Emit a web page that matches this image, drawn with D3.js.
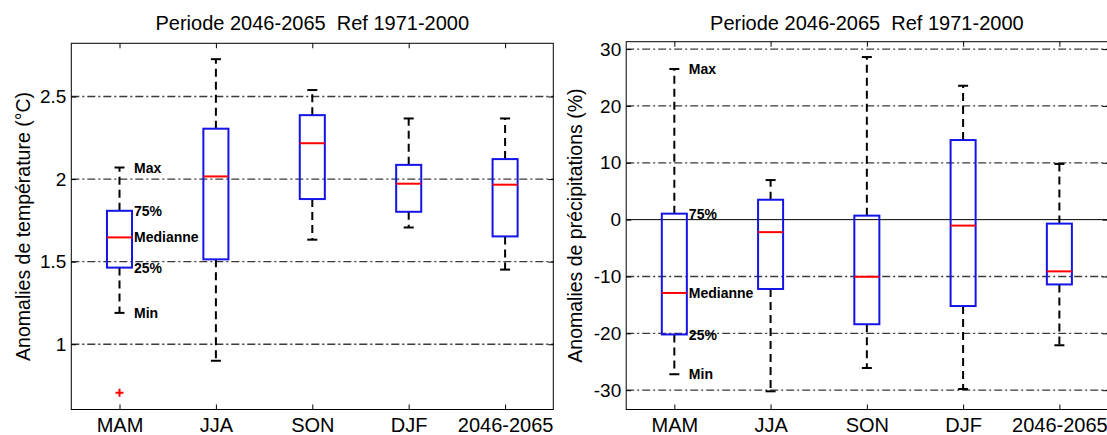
<!DOCTYPE html>
<html>
<head>
<meta charset="utf-8">
<script src="https://cdn.jsdelivr.net/npm/d3@7"></script>
<style>
  body { margin: 0; background: #fff; }
  svg { display: block; font-family: "Liberation Sans", Arial, sans-serif; }
</style>
</head>
<body>
<div id="chart"></div>
<script>
// categories on the x axis
const categories = ["MAM", "JJA", "SON", "DJF", "2046-2065"];

// temperature anomalies (°C)
const tempMin    = [1.19, 0.90, 1.633, 1.707, 1.452];
const tempQ1     = [1.464, 1.514, 1.879, 1.802, 1.653];
const tempMedian = [1.647, 2.016, 2.217, 1.972, 1.966];
const tempQ3     = [1.808, 2.305, 2.387, 2.086, 2.121];
const tempMax    = [2.07, 2.726, 2.539, 2.367, 2.367];
const tempOutliers = [[0.706], [], [], [], []];
const tempTicks = [1, 1.5, 2, 2.5];

// precipitation anomalies (%)
const precMin    = [-27.2, -30.2, -26.1, -29.8, -22.1];
const precQ1     = [-20.2, -12.2, -18.4, -15.2, -11.4];
const precMedian = [-12.9, -2.2, -10.05, -1.05, -9.1];
const precQ3     = [1.05, 3.5, 0.7, 14.0, -0.7];
const precMax    = [26.5, 6.96, 28.6, 23.55, 9.8];
const precOutliers = [[], [], [], [], []];
const precTicks = [-30, -20, -10, 0, 10, 20, 30];

const title = "Periode 2046-2065  Ref 1971-2000";
const statLabels = ["Max", "75%", "Medianne", "25%", "Min"];

let width = 1107,
    height = 435;

let svg = d3.select("#chart")
    .append("svg")
    .attr("width", width)
    .attr("height", height);

function drawPanel(p) {
    let x = d3.scaleLinear().domain([0.5, 5.5]).range([p.left, p.right]);
    let y = d3.scaleLinear().domain(p.domain).range([p.bottom, p.top]);

    let data = categories.map(function(c, i) {
        return { cat: c, pos: i + 1, min: p.min[i], q1: p.q1[i], med: p.med[i],
                 q3: p.q3[i], max: p.max[i], out: p.out[i] };
    });

    let g = svg.append("g");

    // dash-dot grid
    g.selectAll(".grid")
        .data(p.ticks.filter(function(t) { return !(p.zeroLine && t === 0); }))
        .enter().append("line")
        .attr("x1", p.left).attr("x2", p.right)
        .attr("y1", function(d) { return y(d); })
        .attr("y2", function(d) { return y(d); })
        .attr("stroke", "#3a3a3a")
        .attr("stroke-width", 1.3)
        .attr("stroke-dasharray", "8,3,2,3");

    if (p.zeroLine) {
        g.append("line")
            .attr("x1", p.left).attr("x2", p.right)
            .attr("y1", y(0)).attr("y2", y(0))
            .attr("stroke", "#000").attr("stroke-width", 1);
    }

    let halfBox = 0.13, halfCap = 0.052;

    // whiskers
    g.selectAll(".wup").data(data).enter().append("line")
        .attr("x1", function(d) { return x(d.pos); })
        .attr("x2", function(d) { return x(d.pos); })
        .attr("y1", function(d) { return y(d.q3); })
        .attr("y2", function(d) { return y(d.max); })
        .attr("stroke", "#000").attr("stroke-width", 2)
        .attr("stroke-dasharray", "8,5");
    g.selectAll(".wdn").data(data).enter().append("line")
        .attr("x1", function(d) { return x(d.pos); })
        .attr("x2", function(d) { return x(d.pos); })
        .attr("y1", function(d) { return y(d.q1); })
        .attr("y2", function(d) { return y(d.min); })
        .attr("stroke", "#000").attr("stroke-width", 2)
        .attr("stroke-dasharray", "8,5");

    // caps
    ["max", "min"].forEach(function(k) {
        g.selectAll(".cap-" + k).data(data).enter().append("line")
            .attr("x1", function(d) { return x(d.pos - halfCap); })
            .attr("x2", function(d) { return x(d.pos + halfCap); })
            .attr("y1", function(d) { return y(d[k]); })
            .attr("y2", function(d) { return y(d[k]); })
            .attr("stroke", "#000").attr("stroke-width", 2);
    });

    // boxes
    g.selectAll(".box").data(data).enter().append("rect")
        .attr("x", function(d) { return x(d.pos - halfBox); })
        .attr("y", function(d) { return y(d.q3); })
        .attr("width", function(d) { return x(d.pos + halfBox) - x(d.pos - halfBox); })
        .attr("height", function(d) { return y(d.q1) - y(d.q3); })
        .attr("fill", "none")
        .attr("stroke", "#1414e6")
        .attr("stroke-width", 2);

    // medians
    g.selectAll(".med").data(data).enter().append("line")
        .attr("x1", function(d) { return x(d.pos - halfBox); })
        .attr("x2", function(d) { return x(d.pos + halfBox); })
        .attr("y1", function(d) { return y(d.med); })
        .attr("y2", function(d) { return y(d.med); })
        .attr("stroke", "#ff0000").attr("stroke-width", 2);

    // outliers
    let outs = [];
    data.forEach(function(d) { d.out.forEach(function(v) { outs.push({ pos: d.pos, v: v }); }); });
    g.selectAll(".out").data(outs).enter().append("path")
        .attr("d", function(d) {
            let cx = x(d.pos), cy = y(d.v);
            return "M" + (cx - 4) + "," + cy + "H" + (cx + 4) + "M" + cx + "," + (cy - 4) + "V" + (cy + 4);
        })
        .attr("stroke", "#ff0000").attr("stroke-width", 2);

    // labels on the first box
    let first = data[0];
    let labelVals = [first.max, first.q3, first.med, first.q1, first.min];
    g.selectAll(".ann").data(statLabels).enter().append("text")
        .attr("x", x(first.pos + halfBox) + 2)
        .attr("y", function(d, i) { return y(labelVals[i]); })
        .attr("dy", "0.36em")
        .style("font-size", "14px")
        .style("font-weight", "bold")
        .text(function(d) { return d; });

    // axes: inward ticks on all four sides
    let yAxis = g.append("g")
        .attr("transform", `translate(${p.left},0)`)
        .call(d3.axisLeft(y).tickValues(p.ticks).tickFormat(function(d) { return String(d); })
            .tickSize(-5).tickPadding(5));
    let xAxis = g.append("g")
        .attr("transform", `translate(0,${p.bottom})`)
        .call(d3.axisBottom(x).tickValues([1, 2, 3, 4, 5])
            .tickFormat(function(d) { return categories[d - 1]; }).tickSize(-5).tickPadding(8));
    g.append("g")
        .attr("transform", `translate(0,${p.top})`)
        .call(d3.axisTop(x).tickValues([1, 2, 3, 4, 5]).tickFormat("").tickSize(-5));
    g.append("g")
        .attr("transform", `translate(${p.right},0)`)
        .call(d3.axisRight(y).tickValues(p.ticks).tickFormat("").tickSize(-5));

    g.selectAll(".domain").remove();
    g.selectAll(".tick line").attr("stroke", "#000");
    yAxis.selectAll("text").style("font-size", "19px").attr("fill", "#000");
    xAxis.selectAll("text").style("font-size", "20px").attr("fill", "#000");
    g.selectAll("g").attr("font-family", null);

    // frame
    g.append("rect")
        .attr("x", p.left).attr("y", p.top)
        .attr("width", p.right - p.left).attr("height", p.bottom - p.top)
        .attr("fill", "none").attr("stroke", "#000").attr("stroke-width", 1);

    // title (keeps the double space)
    svg.append("text")
        .attr("x", (p.left + p.right) / 2)
        .attr("y", 30)
        .style("text-anchor", "middle")
        .style("font-size", "20px")
        .style("white-space", "pre")
        .text(title);

    // y-axis label
    svg.append("text")
        .attr("transform", `translate(${p.labelX}, ${(p.top + p.bottom) / 2}) rotate(-90)`)
        .style("text-anchor", "middle")
        .style("font-size", "19.5px")
        .text(p.label);
}

drawPanel({
    left: 71.3, right: 553.3, top: 43.3, bottom: 409.5,
    domain: [0.605, 2.822], ticks: tempTicks, zeroLine: false,
    min: tempMin, q1: tempQ1, med: tempMedian, q3: tempQ3, max: tempMax, out: tempOutliers,
    label: "Anomalies de température (°C)", labelX: 30
});

drawPanel({
    left: 626.2, right: 1107.5, top: 41.7, bottom: 409.5,
    domain: [-33.4, 31.3], ticks: precTicks, zeroLine: true,
    min: precMin, q1: precQ1, med: precMedian, q3: precQ3, max: precMax, out: precOutliers,
    label: "Anomalies de précipitations (%)", labelX: 582
});
</script>
</body>
</html>
